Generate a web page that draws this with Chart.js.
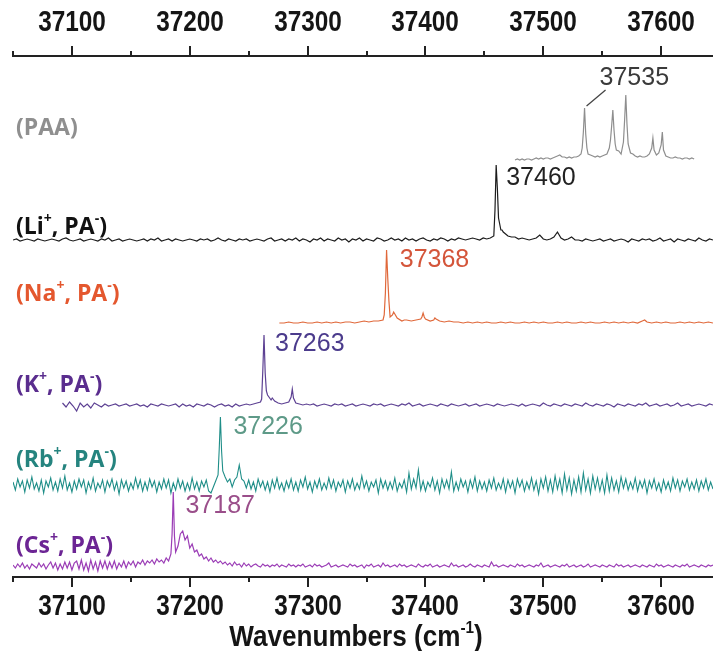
<!DOCTYPE html>
<html>
<head>
<meta charset="utf-8">
<script src="https://cdn.jsdelivr.net/npm/chart.js@4.4.1/dist/chart.umd.min.js"></script>
<style>
  html, body { margin: 0; padding: 0; background: #fff; }
  canvas { display: block; }
</style>
</head>
<body>
<canvas id="spectra" width="713" height="651"></canvas>
<script>
// wavenumber window of the figure (cm-1)
const xMin = 37050;
const xMax = 37644;

// each trace: regular samples (start, step, values) + extra points on the sharp peaks
// intensities in arbitrary units relative to the trace's own baseline
const paaStart = 37476, paaStep = 2;
const paaY = [0, 1, 0, 1, 0, 1, 1, 0, 1, 2, 1, 2, 1, 2, 2, 1, 2, 3, 4, 5,
  3, 3, 2, 3, 2, 3, 3, 4, 6, 28, 26, 6, 5, 4, 3, 4, 3, 4, 5, 6,
  12, 34, 30, 10, 9, 6, 18, 65, 16, 7, 6, 4, 3, 4, 3, 3, 4, 6, 12, 10,
  5, 7, 15, 10, 4, 3, 2, 2, 3, 2, 2, 1, 2, 2, 1, 2, 1];
const paaPeakX = [37533, 37535, 37537, 37557, 37559, 37561, 37569, 37571, 37593, 37601];
const paaPeakY = [12, 52, 12, 20, 50, 16, 40, 36, 22, 28];

const liStart = 37050, liStep = 3;
const liY = [0, 1, -1, 0, 1, 0, -1, 1, 0, -1,
  0, 1, 0, -1, 1, 2, 0, -1, 0, 1,
  -1, 0, 1, 0, -1, 1, 0, 2, -1, 0,
  1, -1, 0, 1, 0, -1, 0, 1, -1, 1,
  0, 2, -1, 0, 1, -1, 1, 0, -1, 0,
  1, 0, -1, 1, 0, 1, -1, 0, 2, 0,
  -1, 1, 0, -1, 1, 0, 1, -1, 0, 1,
  0, -1, 1, 2, -1, 0, 1, -1, 1, 0,
  2, -1, 1, 0, -2, 1, 0, 2, -1, 1,
  0, -1, 2, 0, 1, -2, 1, 0, 2, -1,
  1, 0, -1, 2, 1, -1, 0, 2, 0, 1,
  -1, 2, 0, 1, -1, 1, 2, 0, -1, 1,
  0, 2, 1, -1, 1, 0, 2, 1, 0, 1,
  2, 1, 0, 2, 1, 2, 4, 52, 10, 7,
  4, 3, 3, 1, 2, 1, 0, 1, 2, 5,
  1, 0, 1, 3, 8, 2, 0, 1, 3, 0,
  0, -1, 1, 0, -1, 0, 1, -1, 0, 1,
  -1, 0, 1, 0, -2, 1, 0, -1, 1, 0,
  1, -1, 0, 2, -1, 0, 1, -2, 1, 0,
  -1, 1, 0, -1, 2, 0, -1, 1, 0];
const liPeakX = [37459, 37460, 37462, 37465, 37466];
const liPeakY = [30, 75, 22, 10, 8];

const naStart = 37276, naStep = 4;
const naY = [0, 0, 1, 0, 0, 1, 0, 0, 1, 0,
  1, 0, 1, 0, 1, 1, 0, 1, 2, 1,
  2, 2, 3, 45, 8, 5, 2, 3, 2, 3,
  4, 4, 2, 5, 2, 1, 2, 1, 1, 0,
  1, 0, 1, 0, 1, 0, 0, 1, 0, 1,
  0, 0, 1, 0, 1, 0, 1, 0, 0, 1,
  0, 1, 0, 0, 1, 0, 1, 0, 0, 1,
  0, 1, 0, 1, 0, 1, 0, 2, 1, 0,
  1, 0, 1, 0, 0, 1, 0, 1, 0, 1,
  0, 1, 0];
const naPeakX = [37365, 37366, 37367, 37369, 37370, 37373, 37374, 37382, 37397, 37398, 37399, 37407, 37409, 37586];
const naPeakY = [8, 30, 73, 22, 6, 11, 9, 3, 6, 10, 6, 3, 4, 3];

const kStart = 37092, kStep = 3;
const kY = [2, -2, 3, -1, -6, 2, -2, 1, -3, 2,
  0, -2, 1, -1, 0, 1, -1, 0, 1, -1,
  0, 1, -1, 0, -2, 1, 0, -1, 1, 0,
  -1, 0, 1, -2, 1, -1, 0, -2, 1, 0,
  -1, 1, 0, -2, 0, 1, -1, 0, -2, 1,
  -1, 0, 1, 0, 1, 2, 3, 70, 10, 5,
  4, 2, 1, 2, 3, 16, 2, 1, 0, 1,
  0, 1, -1, 0, 1, 0, -1, 1, 0, 1,
  -1, 0, 1, -1, 0, 1, 0, -1, 1, 0,
  1, -1, 0, 1, 0, -1, 1, 0, 2, -1,
  0, 1, -1, 0, 1, 0, -1, 1, 0, -1,
  1, 0, -1, 0, 1, -1, 0, 1, -1, 0,
  1, 0, -1, 1, 0, -1, 0, 1, 0, -1,
  1, -1, 0, 1, 0, -1, 2, 0, -1, 1,
  0, -1, 1, 0, -1, 1, 0, -1, 2, 0,
  -1, 1, 0, -1, 1, 0, -2, 1, 0, -1,
  1, 0, -1, 1, 0, 2, -1, 0, 1, -1,
  0, 1, -1, 0, 2, -1, 0, 1, -1, 0,
  1, 0, -1, 1, 0];
const kPeakX = [37261, 37262, 37264, 37265, 37270, 37286, 37288];
const kPeakY = [6, 35, 32, 14, 7, 8, 7];

const rbStart = 37050, rbStep = 2;
const rbY = [3, -5, 6, -2, 4, -7, 5, -3, 8, -4,
  2, -6, 5, -8, 4, -2, 7, -5, 3, -6,
  6, -3, 9, -5, 2, -7, 4, -4, 6, -2,
  5, -8, 3, -4, 7, -6, 2, -3, 5, -7,
  4, -2, 6, -5, 3, -9, 5, -3, 4, -6,
  2, -4, 7, -3, 5, -6, 3, -5, 6, -2,
  4, -7, 3, -4, 6, -3, 5, -8, 2, -5,
  6, -3, 4, -6, 2, -5, 7, -4, 3, -6,
  4, -2, 5, -6, -8, -2, 4, 10, 68, 14,
  8, 3, 6, -2, 5, 8, 20, 6, 4, -3,
  5, -4, 3, -6, 6, -2, 4, -5, 3, -7,
  5, -3, 7, -4, 2, -6, 4, -3, 6, -5,
  3, -6, 5, -2, 8, -4, 3, -7, 4, -3,
  6, -5, 2, -4, 7, -3, 5, -6, 3, -2,
  5, -7, 4, -3, 6, -5, 2, -4, 9, -3,
  4, -6, 3, -2, 5, -8, 6, -3, 4, -5,
  3, -4, 7, -6, 2, -3, 5, -7, 12, -4,
  6, -3, 15, -5, 4, -6, 3, -2, 7, -5,
  4, -8, 6, -3, 5, -4, 13, -6, 3, -5,
  6, -2, 4, -7, 5, -3, 8, -6, 4, -4,
  3, -6, 5, -3, 7, -5, 2, -4, 6, -7,
  5, -3, 4, -8, 6, -2, 5, -6, 3, -4,
  7, -5, 4, -9, 6, -3, 8, -6, 5, -7,
  9, -4, 6, -8, 11, -5, 7, -9, 5, -6,
  8, -7, 12, -5, 6, -8, 9, -4, 7, -6,
  5, -8, 10, -6, 7, -5, 4, -7, 8, -3,
  6, -5, 3, -4, 7, -6, 4, -3, 5, -8,
  4, -3, 6, -5, 2, -7, 5, -4, 3, -6,
  7, -3, 5, -6, 4, -2, 6, -5, 3, -4,
  5, -6, 4, -3, 6, -5, 3, -4];
const rbPeakX = [37225, 37227];
const rbPeakY = [36, 34];

const csStart = 37050, csStep = 2;
const csY = [1, -2, 2, -1, 3, -2, 1, -3, 2, 0,
  -2, 3, -1, 2, -3, 1, 4, -2, 3, -4,
  2, -3, 4, -2, 4, -4, 3, 5, -3, 6,
  -4, 3, -5, 6, -3, 4, -5, 5, -2, 5,
  -3, 4, -2, 5, -3, 3, -1, 5, -2, 4,
  1, 5, -1, 4, 2, 6, 1, 5, 3, 6,
  2, 7, 4, 6, 3, 8, 5, 12, 74, 14,
  20, 32, 35, 26, 30, 18, 22, 14, 16, 10,
  12, 7, 9, 5, 8, 4, 6, 3, 5, 2,
  4, 1, 3, 0, 4, 1, 2, -1, 3, 0,
  2, -1, 1, 2, 0, -1, 2, 0, 1, -1,
  1, 0, 2, -1, 1, 0, -1, 2, 0, 1,
  -1, 1, 0, 2, -1, 0, 1, -1, 2, 0,
  1, -1, 0, 1, 3, -1, 0, 1, -1, 0,
  1, 0, -1, 2, 0, 1, -1, 0, 1, -2,
  1, 0, 2, -1, 0, 1, -1, 3, 0, 1,
  -1, 0, 1, -1, 2, 0, 1, -1, 0, 1,
  0, -1, 2, 0, -1, 1, 0, 2, -1, 0,
  1, -1, 0, 1, 0, -1, 3, 0, 1, -1,
  0, 1, -1, 0, 2, 0, -1, 1, 0, -1,
  1, 0, -1, 4, 0, 1, -1, 0, 1, 0,
  -1, 1, 0, -1, 2, 0, 1, -1, 0, 1,
  0, -1, 1, 0, 3, -1, 0, 1, -1, 0,
  1, 0, -1, 1, 0, 2, -1, 0, 1, -1,
  0, 1, -1, 0, 2, -1, 0, 1, 0, -1,
  1, 0, -1, 1, 0, -1, 2, 0, 1, -1,
  0, 1, -1, 0, 1, 0, -1, 1, 0, -1,
  1, 0, -1, 2, 0, 1, -1, 0, 1, 0,
  -1, 1, 0, -1, 1, 0, 2, -1, 0, 1,
  0, -1, 1, 0, -1, 1, 0, 1];
const csPeakX = [37185, 37187];
const csPeakY = [32, 30];

// vertical stacking offset of every trace (same units as the y scale)
const traceOffsets = [417, 337, 254, 172, 92, 11];
const traceColors = ['#8e8e8e', '#1c1c1c', '#e0683a', '#5d4193', '#1f8e88', '#9b3db6'];

// left-hand trace names, '^' marks a superscript part
const traceNames = [
  ['(PAA)'],
  ['(Li', '^+', ', PA', '^-', ')'],
  ['(Na', '^+', ', PA', '^-', ')'],
  ['(K', '^+', ', PA', '^-', ')'],
  ['(Rb', '^+', ', PA', '^-', ')'],
  ['(Cs', '^+', ', PA', '^-', ')'],
];
const nameColors = ['#8f8f8f', '#111111', '#e4572e', '#5a2d8e', '#25847f', '#6c2594'];
const nameY = [128, 227, 294, 385, 460, 546];

// annotated band origins
const peakLabels = [37535, 37460, 37368, 37263, 37226, 37187];
const peakLabelColors = ['#3a3a3a', '#222222', '#d4553a', '#4b3b8c', '#5e9a88', '#9a4e8a'];
const peakLabelDx = [15, 10, 12, 11, 13, 11];
const peakLabelY = [78, 178, 260, 344, 427, 506];

function buildTrace(start, step, vals, pkX, pkY, offset) {
  const pts = vals.map((v, i) => ({ x: start + i * step, y: v + offset }));
  pkX.forEach((x, i) => pts.push({ x, y: pkY[i] + offset }));
  return pts.sort((a, b) => a.x - b.x);
}

const traces = [
  buildTrace(paaStart, paaStep, paaY, paaPeakX, paaPeakY, traceOffsets[0]),
  buildTrace(liStart, liStep, liY, liPeakX, liPeakY, traceOffsets[1]),
  buildTrace(naStart, naStep, naY, naPeakX, naPeakY, traceOffsets[2]),
  buildTrace(kStart, kStep, kY, kPeakX, kPeakY, traceOffsets[3]),
  buildTrace(rbStart, rbStep, rbY, rbPeakX, rbPeakY, traceOffsets[4]),
  buildTrace(csStart, csStep, csY, csPeakX, csPeakY, traceOffsets[5]),
];

const arialish = '"Liberation Sans", Arial, sans-serif';

function xAxis(position, height) {
  return {
    type: 'linear',
    position,
    min: xMin,
    max: xMax,
    afterFit: (s) => { s.height = height; },
    grid: { display: false, drawTicks: false },
    border: { display: true, color: '#222', width: 2 },
    // labels are drawn condensed by the overlay plugin
    ticks: { display: false, stepSize: 50, includeBounds: false, autoSkip: false },
  };
}

function richWidth(ctx, parts, size, weight, family) {
  let w = 0;
  parts.forEach((p) => {
    const sup = p.startsWith('^');
    const txt = sup ? p.slice(1) : p;
    ctx.font = `${weight} ${sup ? Math.round(size * 0.6) : size}px ${family}`;
    w += ctx.measureText(txt).width;
  });
  return w;
}

function drawRich(ctx, parts, x, y, size, weight, family, color) {
  ctx.fillStyle = color;
  ctx.textBaseline = 'middle';
  ctx.textAlign = 'left';
  let cx = x;
  parts.forEach((p) => {
    const sup = p.startsWith('^');
    const txt = sup ? p.slice(1) : p;
    ctx.font = `${weight} ${sup ? Math.round(size * 0.6) : size}px ${family}`;
    ctx.fillText(txt, cx, sup ? y - size * 0.33 : y);
    cx += ctx.measureText(txt).width;
  });
}

const overlay = {
  id: 'overlay',
  afterDraw(chart) {
    const { ctx, chartArea, scales } = chart;
    ctx.save();

    // major / minor tick marks pointing out of the frame, condensed bold labels
    [[scales.x, 1, chartArea.bottom, 607], [scales.xTop, -1, chartArea.top, 23]].forEach(([s, dir, y0, ly]) => {
      s.ticks.forEach((t) => {
        if (t.value % 50 !== 0) return;
        const major = t.value % 100 === 0;
        const px = Math.round(s.getPixelForValue(t.value));
        ctx.strokeStyle = '#222';
        ctx.lineWidth = 2;
        ctx.beginPath();
        ctx.moveTo(px, y0);
        ctx.lineTo(px, y0 + dir * (major ? 10 : 5));
        ctx.stroke();
        if (!major) return;
        ctx.save();
        ctx.translate(px, ly);
        ctx.scale(0.84, 1);
        ctx.font = `bold 29px ${arialish}`;
        ctx.fillStyle = '#151515';
        ctx.textAlign = 'center';
        ctx.textBaseline = 'middle';
        ctx.fillText(String(t.value), 0, 0);
        ctx.restore();
      });
    });

    // trace names
    const sans = '"Open Sans", "Noto Sans", sans-serif';
    traceNames.forEach((parts, i) => {
      drawRich(ctx, parts, 16, nameY[i], 23, 'bold', sans, nameColors[i]);
    });

    // band origin labels
    ctx.font = `25px ${arialish}`;
    ctx.textBaseline = 'middle';
    ctx.textAlign = 'left';
    peakLabels.forEach((v, i) => {
      const px = scales.x.getPixelForValue(v);
      ctx.fillStyle = peakLabelColors[i];
      ctx.fillText(String(v), px + peakLabelDx[i], peakLabelY[i]);
    });

    // leader from the PAA band to its label
    const lx = scales.x.getPixelForValue(peakLabels[0]);
    const lyTop = scales.y.getPixelForValue(paaPeakY[1] + traceOffsets[0]);
    ctx.strokeStyle = '#444';
    ctx.lineWidth = 1.3;
    ctx.beginPath();
    ctx.moveTo(lx + 2, lyTop - 2);
    ctx.lineTo(lx + 21, lyTop - 18);
    ctx.stroke();

    // axis title
    const title = ['Wavenumbers (cm', '^-1', ')'];
    const tw = richWidth(ctx, title, 29, 'bold', arialish);
    ctx.save();
    ctx.translate(356, 638);
    ctx.scale(0.9, 1);
    drawRich(ctx, title, -tw / 2, 0, 29, 'bold', arialish, '#151515');
    ctx.restore();

    ctx.restore();
  },
};

new Chart(document.getElementById('spectra'), {
  type: 'line',
  data: {
    datasets: traces.map((pts, i) => ({
      data: pts,
      borderColor: traceColors[i],
      borderWidth: i === 4 ? 1.1 : 1.2,
      pointRadius: 0,
      tension: 0,
      fill: false,
    })),
  },
  options: {
    responsive: false,
    devicePixelRatio: 1,
    animation: false,
    events: [],
    layout: { padding: { left: 13, right: 0, top: 0, bottom: 0 } },
    plugins: { legend: { display: false }, tooltip: { enabled: false } },
    scales: {
      x: xAxis('bottom', 74),
      xTop: xAxis('top', 56),
      y: { display: false, min: 0, max: 521 },
    },
  },
  plugins: [overlay],
});
</script>
</body>
</html>
